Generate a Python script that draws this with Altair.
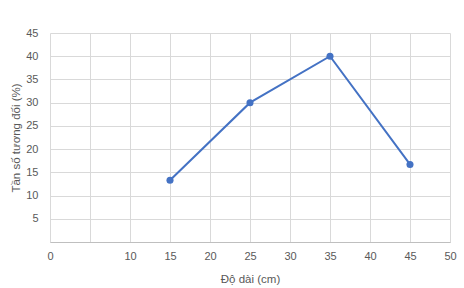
import altair as alt
import pandas as pd

lengths = [15, 25, 35, 45]
freqs = [13.3, 30, 40, 16.7]
x_ticks = [0, 5, 10, 15, 20, 25, 30, 35, 40, 45, 50]
y_ticks = [0, 5, 10, 15, 20, 25, 30, 35, 40, 45]

df = pd.DataFrame({"x": lengths, "y": freqs})

FONT = "Liberation Sans"
GRAY = "#595959"

x = alt.X("x:Q",
          scale=alt.Scale(domain=[0, 50], nice=False, zero=False),
          axis=alt.Axis(values=x_ticks, title="Độ dài (cm)",
                        labelExpr="datum.value == 5 ? '' : datum.label",
                        labelFlush=False,
                        grid=True, gridColor="#d9d9d9", ticks=False,
                        domainColor="#bfbfbf", labelPadding=8,
                        titlePadding=12))
y = alt.Y("y:Q",
          scale=alt.Scale(domain=[0, 45], nice=False),
          axis=alt.Axis(values=y_ticks, title="Tần số tương đối (%)",
                        labelExpr="datum.value == 0 ? '' : datum.label",
                        labelFlush=False,
                        grid=True, gridColor="#d9d9d9", ticks=False,
                        domain=False, labelPadding=12, titlePadding=4))

line = alt.Chart(df).mark_line(color="#4472C4", strokeWidth=2).encode(x=x, y=y)
pts = alt.Chart(df).mark_point(color="#4472C4", filled=True, opacity=1, size=50).encode(x=x, y=y)

chart = (line + pts).properties(
    width=400, height=209,
    autosize=alt.AutoSizeParams(type="none"),
    padding={"left": 50, "top": 33, "right": 14, "bottom": 46},
    background="white",
).configure_view(stroke=None).configure_axis(
    labelFont=FONT, titleFont=FONT, labelFontSize=11, titleFontSize=11.5,
    labelColor=GRAY, titleColor=GRAY, titleFontWeight="normal",
)

chart.save("out.html", embed_options={"renderer": "svg", "actions": False})
